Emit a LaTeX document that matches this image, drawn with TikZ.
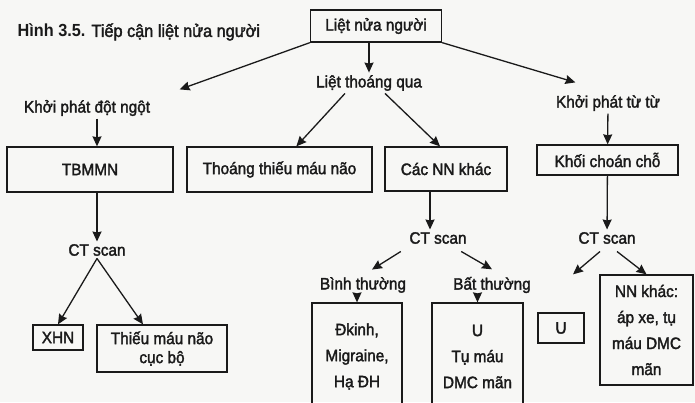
\documentclass[tikz,border=0pt]{standalone}
\usepackage{fontspec}
\setmainfont{Liberation Sans}
\newfontfamily\diagfont{Liberation Sans}[FakeBold=2, FakeStretch=0.93]
\newfontfamily\figfont{Liberation Sans}[FakeStretch=0.93]
\usepackage{tikz}
\usetikzlibrary{positioning, arrows.meta, calc}

\definecolor{paper}{HTML}{F7F7F5}
\definecolor{ink}{HTML}{1A1A1A}

\begin{document}
\begin{tikzpicture}[
        x=1pt, y=-1pt,
        >={Stealth[length=10pt, width=9pt, inset=1pt]}, % Arrowhead style
        color=ink, line width=1.3pt,
        lbl/.style={font=\diagfont\fontsize{16.5}{19}\selectfont, inner sep=2pt},
        box/.style={draw, font=\diagfont\fontsize{16.5}{19}\selectfont, align=center, inner sep=0pt}
    ]
    \useasboundingbox (0,0) rectangle (695,402);
    \fill[paper] (0,0) rectangle (695,402);
    \clip (0,0) rectangle (695,402);

    % ==========================================
    % Nodes Placement
    % ==========================================
    \node[lbl, anchor=west, font=\diagfont\fontsize{17.5}{19}\selectfont] (title) at (15,32)
        {{\figfont\bfseries Hình 3.5.} Tiếp cận liệt nửa người};
    \node[box, minimum width=131, minimum height=32] (top) at (376,26) {Liệt nửa người};

    \node[lbl] (sudden)    at (87,108)  {Khởi phát đột ngột};
    \node[lbl] (transient) at (369,83)  {Liệt thoáng qua};
    \node[lbl] (gradual)   at (608,103) {Khởi phát từ từ};

    \node[box, minimum width=166, minimum height=45] (tbmmn) at (90,169.5)  {TBMMN};
    \node[box, minimum width=185, minimum height=45] (tia)   at (279.5,169.5) {Thoáng thiếu máu não};
    \node[box, minimum width=122, minimum height=44] (other) at (446,169)   {Các NN khác};
    \node[box, minimum width=141, minimum height=30] (mass)  at (607.5,160) {Khối choán chỗ};

    \node[lbl] (ct1) at (97,250)  {CT scan};
    \node[lbl] (ct2) at (438,238) {CT scan};
    \node[lbl] (ct3) at (607,238) {CT scan};

    \node[lbl] (normal)   at (363,285) {Bình thường};
    \node[lbl] (abnormal) at (492,285) {Bất thường};

    \node[box, minimum width=50, minimum height=25]  (xhn)      at (58,337.5)  {XHN};
    \node[box, minimum width=130, minimum height=47] (ischemia) at (162,348.5) {Thiếu máu não\\cục bộ};
    \node[box, minimum width=90, minimum height=107, font=\diagfont\fontsize{16.5}{26}\selectfont]
        (epilepsy) at (357,356.5) {Đkinh,\\Migraine,\\Hạ ĐH};
    \node[box, minimum width=91, minimum height=107, font=\diagfont\fontsize{16.5}{26}\selectfont]
        (tumor) at (477.5,356.5) {U\\Tụ máu\\DMC mãn};
    \node[box, minimum width=46, minimum height=30]  (tumor2) at (561,328) {U};
    \node[box, minimum width=93, minimum height=110, font=\diagfont\fontsize{16.5}{26}\selectfont]
        (others) at (646.5,330) {NN khác:\\áp xe, tụ\\máu DMC\\mãn};

    % ==========================================
    % Edges
    % ==========================================

    % From the top box
    \draw[->] (top.south west) -- ([xshift=27pt, yshift=8pt]sudden.north east);
    \draw[->] (transient.north |- top.south) -- (transient.north);
    \draw[->] (top.south east) -- ([xshift=22pt, yshift=10pt]gradual.north west);

    % Sudden onset
    \draw[->] (sudden.south -| ct1) -- (tbmmn.north -| ct1);
    \draw[->] (tbmmn.south -| ct1) -- (ct1.north);
    \draw[->] (ct1.south) -- (xhn.north);
    \draw[->] (ct1.south) -- ([xshift=-19pt]ischemia.north);

    % Transient
    \draw[->] ([xshift=-24pt]transient.south) -- ([xshift=110pt]tia.north west);
    \draw[->] ([xshift=16pt]transient.south) -- ([xshift=-6pt]other.north);
    \draw[->] ([xshift=-16pt]other.south) -- ([xshift=-8pt]ct2.north);
    \draw[->] ([xshift=-6pt, yshift=-5pt]ct2.south west) -- ([xshift=9pt, yshift=5pt]normal.north);
    \draw[->] ([xshift=-8pt, yshift=-5pt]ct2.south east) -- ([yshift=5pt]abnormal.north);
    \draw[->] (epilepsy.north |- normal.south) -- (epilepsy.north);
    \draw[->] (tumor.north |- abnormal.south) -- (tumor.north);

    % Gradual onset
    \draw[->] (gradual) -- (mass);
    \draw[->] (mass) -- (ct3);
    \draw[->] ([xshift=-7pt, yshift=-5pt]ct3.south) -- ([xshift=12pt, yshift=38pt]tumor2.north);
    \draw[->] ([xshift=10pt, yshift=-5pt]ct3.south) -- (others.north);

\end{tikzpicture}
\end{document}
